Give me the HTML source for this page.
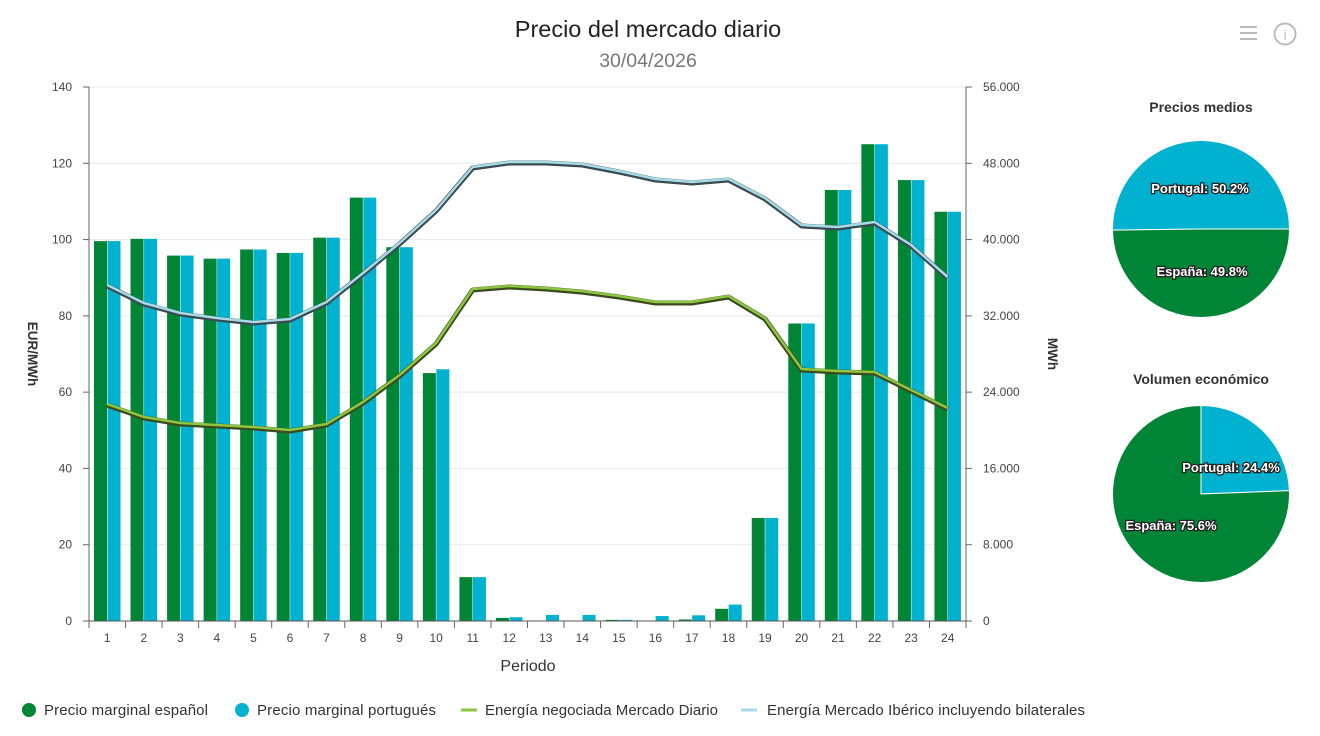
<!DOCTYPE html>
<html><head><meta charset="utf-8"><style>
body{margin:0;background:#fff;width:1320px;height:731px;overflow:hidden;font-family:"Liberation Sans",sans-serif;}
svg text{font-family:"Liberation Sans",sans-serif;}
</style></head><body>
<svg id="c" width="1320" height="731">
<text x="648" y="37" text-anchor="middle" font-size="23.5" fill="#222">Precio del mercado diario</text>
<text x="648" y="67" text-anchor="middle" font-size="19.5" fill="#777">30/04/2026</text>
<g stroke="#bbb" stroke-width="2"><line x1="1240" y1="27" x2="1257" y2="27"/><line x1="1240" y1="33" x2="1257" y2="33"/><line x1="1240" y1="39" x2="1257" y2="39"/></g>
<g><circle cx="1285" cy="34" r="10.5" fill="none" stroke="#bbb" stroke-width="2"/><text x="1285" y="40" text-anchor="middle" font-size="14" fill="#bbb">i</text></g>
<g id="grid"></g><g id="bars"></g><g id="lines"></g><g id="axes"></g>
<text transform="translate(28,354) rotate(90)" text-anchor="middle" font-size="13.5" font-weight="bold" fill="#333">EUR/MWh</text>
<text transform="translate(1048,354) rotate(90)" text-anchor="middle" font-size="13.5" font-weight="bold" fill="#333">MWh</text>
<text x="528" y="671" text-anchor="middle" font-size="16" fill="#333">Periodo</text>
<g id="pies"></g>
<text x="1201" y="112" text-anchor="middle" font-size="14" font-weight="bold" fill="#333">Precios medios</text>
<text x="1201" y="384" text-anchor="middle" font-size="14" font-weight="bold" fill="#333">Volumen económico</text>
<g font-size="15" fill="#333">
<g><circle cx="29" cy="710" r="7" fill="#008435"/><text x="44" y="715" textLength="164">Precio marginal español</text></g>
<g><circle cx="242" cy="710" r="7" fill="#00b2d0"/><text x="257" y="715" textLength="179">Precio marginal portugués</text></g>
<g><line x1="461" y1="710" x2="477" y2="710" stroke="#8dc63f" stroke-width="3"/><text x="485" y="715" textLength="233">Energía negociada Mercado Diario</text></g>
<g><line x1="741" y1="710" x2="757" y2="710" stroke="#a8dbe8" stroke-width="3"/><text x="767" y="715" textLength="318">Energía Mercado Ibérico incluyendo bilaterales</text></g>
</g>
</svg>
<script>
const categories=[1,2,3,4,5,6,7,8,9,10,11,12,13,14,15,16,17,18,19,20,21,22,23,24];
const priceES=[99.6,100.2,95.8,95.0,97.4,96.5,100.5,111,98,65,11.5,0.8,0,0,0.3,0,0.4,3.2,27,78,113,125,115.6,107.3];
const pricePT=[99.6,100.2,95.8,95.0,97.4,96.5,100.5,111,98,66,11.5,1.0,1.6,1.6,0.3,1.3,1.5,4.3,27,78,113,125,115.6,107.3];
const energia=[22750,21400,20760,20550,20340,20030,20660,22970,25800,29150,34820,35130,34920,34600,34080,33450,33450,34080,31780,26430,26220,26110,24220,22340];
const iberico=[35240,33350,32300,31780,31360,31670,33450,36490,39640,43100,47610,48130,48130,47920,47190,46350,46040,46350,44360,41530,41320,41840,39430,36080];
const leftTicks=[0,20,40,60,80,100,120,140];
const rightTicks=[0,8000,16000,24000,32000,40000,48000,56000];
const pieNames=["Portugal","España"];
const precios=[50.2,49.8];
const volumen=[24.4,75.6];
const NS="http://www.w3.org/2000/svg";
const X0=89,X1=966,Y0=621,Y1=87;
const cw=(X1-X0)/categories.length;
const yL=v=>Y0-(v/140)*(Y0-Y1);
const yR=v=>Y0-(v/56000)*(Y0-Y1);
const xc=i=>X0+cw*(i+0.5);
function mk(t,a,p){const e=document.createElementNS(NS,t);for(const k in a)e.setAttribute(k,a[k]);p.appendChild(e);return e;}
const grid=document.getElementById('grid'),axes=document.getElementById('axes');
leftTicks.forEach((v,i)=>{const y=yL(v);
 const g=mk('line',{x1:X0,x2:X1,y1:y,y2:y,stroke:'#e8e8e8'},grid);
 
 
 mk('line',{x1:X0-6,x2:X0,y1:y,y2:y,stroke:'#666'},axes);
 const t=mk('text',{x:X0-17,y:y+4,'text-anchor':'end','font-size':12,fill:'#444'},axes);t.textContent=v;
 
 
});
rightTicks.forEach(v=>{const y=yR(v);
 mk('line',{x1:X1,x2:X1+6,y1:y,y2:y,stroke:'#666'},axes);
 const t=mk('text',{x:X1+17,y:y+4,'font-size':12,fill:'#444'},axes);t.textContent=v===0?'0':(v/1000).toFixed(3);
 
 
});
mk('line',{x1:X0,x2:X0,y1:Y1,y2:Y0,stroke:'#666'},axes);
mk('line',{x1:X1,x2:X1,y1:Y1,y2:Y0,stroke:'#666'},axes);
mk('line',{x1:X0,x2:X1,y1:Y0,y2:Y0,stroke:'#555'},axes);
categories.forEach((c,i)=>{
 const x=X0+cw*i;
 mk('line',{x1:x+cw,x2:x+cw,y1:Y0,y2:Y0+7,stroke:'#666'},axes);
 const t=mk('text',{x:xc(i),y:Y0+21,'text-anchor':'middle','font-size':12,fill:'#444'},axes);t.textContent=c;
 
 
});
mk('line',{x1:X0,x2:X0,y1:Y0,y2:Y0+7,stroke:'#666'},axes);
const bars=document.getElementById('bars');
categories.forEach((c,i)=>{
 const x=X0+cw*i;
 const b1=mk('rect',{x:x+5,y:yL(priceES[i]),width:13,height:Y0-yL(priceES[i]),fill:'#008435'},bars);
 
 
 const b2=mk('rect',{x:x+18.5,y:yL(pricePT[i]),width:13,height:Y0-yL(pricePT[i]),fill:'#00b2d0'},bars);
 
 
});
const lines=document.getElementById('lines');
function line(data,col,shadow,name){
 const d=data.map((v,i)=>(i?'L':'M')+xc(i).toFixed(1)+','+yR(v).toFixed(1)).join('');
 mk('path',{d:d,fill:'none',stroke:shadow,'stroke-width':5,'stroke-linejoin':'round','transform':'translate(0,1)'},lines);
 const p=mk('path',{d:d,fill:'none',stroke:col,'stroke-width':2.5,'stroke-linejoin':'round'},lines);
 
 
}
line(iberico,'#a8dbe8','#3a4a50','line-energia-iberico');
line(energia,'#8dc63f','#3b4a20','line-energia-diario');
const pies=document.getElementById('pies');
function pie(cx,cy,r,vals,start,name){
 let a=start;const cols=['#00b2d0','#008435'];
 vals.forEach((v,i)=>{
  const a2=a+v/100*360;
  const p1=[cx+r*Math.cos(a*Math.PI/180),cy+r*Math.sin(a*Math.PI/180)];
  const p2=[cx+r*Math.cos(a2*Math.PI/180),cy+r*Math.sin(a2*Math.PI/180)];
  const s=mk('path',{d:`M${cx},${cy}L${p1}A${r},${r} 0 ${a2-a>180?1:0} 1 ${p2}Z`,fill:cols[i],stroke:'#fff','stroke-width':1},pies);
  
  
  a=a2;
 });
}
pie(1201,229,88.5,precios,179.3,'pie-precios');
pie(1201,494,88.5,volumen,270,'pie-volumen');
function lbl(x,y,t){
 const e=mk('text',{x:x,y:y,'text-anchor':'middle','font-size':13,'font-weight':'bold',fill:'#fff',stroke:'#222','stroke-width':2.5,'paint-order':'stroke'},pies);
 e.textContent=t;
 
 
}
lbl(1200,193,pieNames[0]+': '+precios[0]+'%');
lbl(1202,276,pieNames[1]+': '+precios[1]+'%');
lbl(1231,472,pieNames[0]+': '+volumen[0]+'%');
lbl(1171,530,pieNames[1]+': '+volumen[1]+'%');
</script>
</body></html>
